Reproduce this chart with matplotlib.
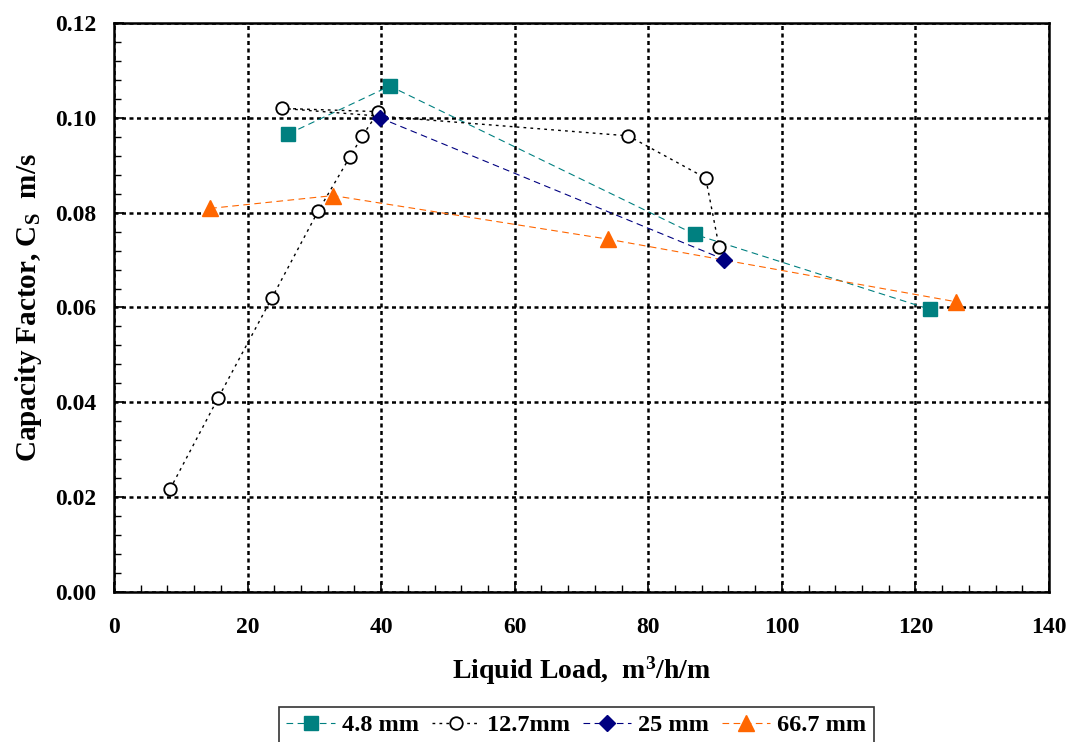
import matplotlib
matplotlib.use('Agg')
import matplotlib.pyplot as plt
from matplotlib.ticker import MultipleLocator

# data
x_48 = [26.1, 41.3, 87.0, 122.2]
cs_48 = [0.0966, 0.1067, 0.0754, 0.0596]

x_127 = [8.4, 15.6, 23.6, 30.6, 35.3, 37.2, 39.6, 25.1, 77.0, 88.6, 90.6]
cs_127 = [0.0217, 0.0409, 0.0619, 0.0804, 0.0917, 0.0962, 0.1013, 0.1020,
          0.0962, 0.0873, 0.0728]

x_25 = [39.8, 91.4]
cs_25 = [0.1000, 0.0701]

x_667 = [14.4, 32.8, 74.0, 126.1]
cs_667 = [0.0809, 0.0836, 0.0744, 0.0612]

plt.rcParams['font.family'] = 'Liberation Serif'
plt.rcParams['font.weight'] = 'bold'
plt.rcParams['mathtext.fontset'] = 'custom'
plt.rcParams['mathtext.rm'] = 'Liberation Serif:bold'
plt.rcParams['mathtext.it'] = 'Liberation Serif:bold'
plt.rcParams['mathtext.bf'] = 'Liberation Serif:bold'

fig = plt.figure(figsize=(10.7, 7.42), dpi=100)
ax = fig.add_axes([0.1065, 0.2022, 0.8739, 0.7668])

ax.plot(x_48, cs_48, color='#008080', ls=(0, (6, 4)), lw=0.8,
        marker='s', ms=10, mfc='#008080', mec='#008080', label='4.8 mm', zorder=3)
ax.plot(x_127, cs_127, color='black', ls=(0, (2, 3)), lw=1.0,
        marker='o', ms=9, mfc='white', mec='black', mew=1.3, label='12.7mm', zorder=3)
ax.plot(x_25, cs_25, color='#000080', ls=(0, (6, 4)), lw=0.8,
        marker='D', ms=8, mfc='#000080', mec='#000080', label='25 mm', zorder=4)
ax.plot(x_667, cs_667, color='#FF6600', ls=(0, (6, 4)), lw=0.8,
        marker='^', ms=11, mfc='#FF6600', mec='#FF6600', label='66.7 mm', zorder=3)

ax.set_xlim(0, 140)
ax.set_ylim(0, 0.12)
ax.xaxis.set_major_locator(MultipleLocator(20))
ax.xaxis.set_minor_locator(MultipleLocator(4))
ax.yaxis.set_major_locator(MultipleLocator(0.02))
ax.yaxis.set_minor_locator(MultipleLocator(0.004))
ax.yaxis.set_major_formatter(matplotlib.ticker.FormatStrFormatter('%.2f'))

ax.grid(True, which='major', color='black', ls=(0, (1.6, 1.4)), lw=1.8, zorder=1)
ax.set_axisbelow(True)

ax.tick_params(which='both', direction='in', top=False, right=False)
ax.tick_params(which='major', length=7, width=1.2, labelsize=17)
ax.tick_params(axis='x', which='major', pad=18)
ax.tick_params(axis='y', which='major', pad=13)
ax.tick_params(which='minor', length=5, width=1.0)
for lab in ax.get_xticklabels() + ax.get_yticklabels():
    lab.set_fontweight('bold')

for s in ax.spines.values():
    s.set_linewidth(1.8)

ax.set_xlabel('Liquid Load,  m$^3$/h/m', fontsize=20, fontweight='bold', labelpad=12)
ax.set_ylabel(r'Capacity Factor, C$_\mathrm{S}$  m/s', fontsize=21,
              fontweight='bold', labelpad=8)

leg = fig.legend(loc='upper center', bbox_to_anchor=(0.5388, 0.0472), ncol=4,
                 fontsize=17.5, frameon=True, fancybox=False, edgecolor='black',
                 numpoints=1, handlelength=2.0, handletextpad=0.3,
                 columnspacing=0.5, borderpad=0.3, borderaxespad=0)
leg.get_frame().set_linewidth(1.2)
for t in leg.get_texts():
    t.set_fontweight('bold')

fig.savefig('out.png', dpi=100)
